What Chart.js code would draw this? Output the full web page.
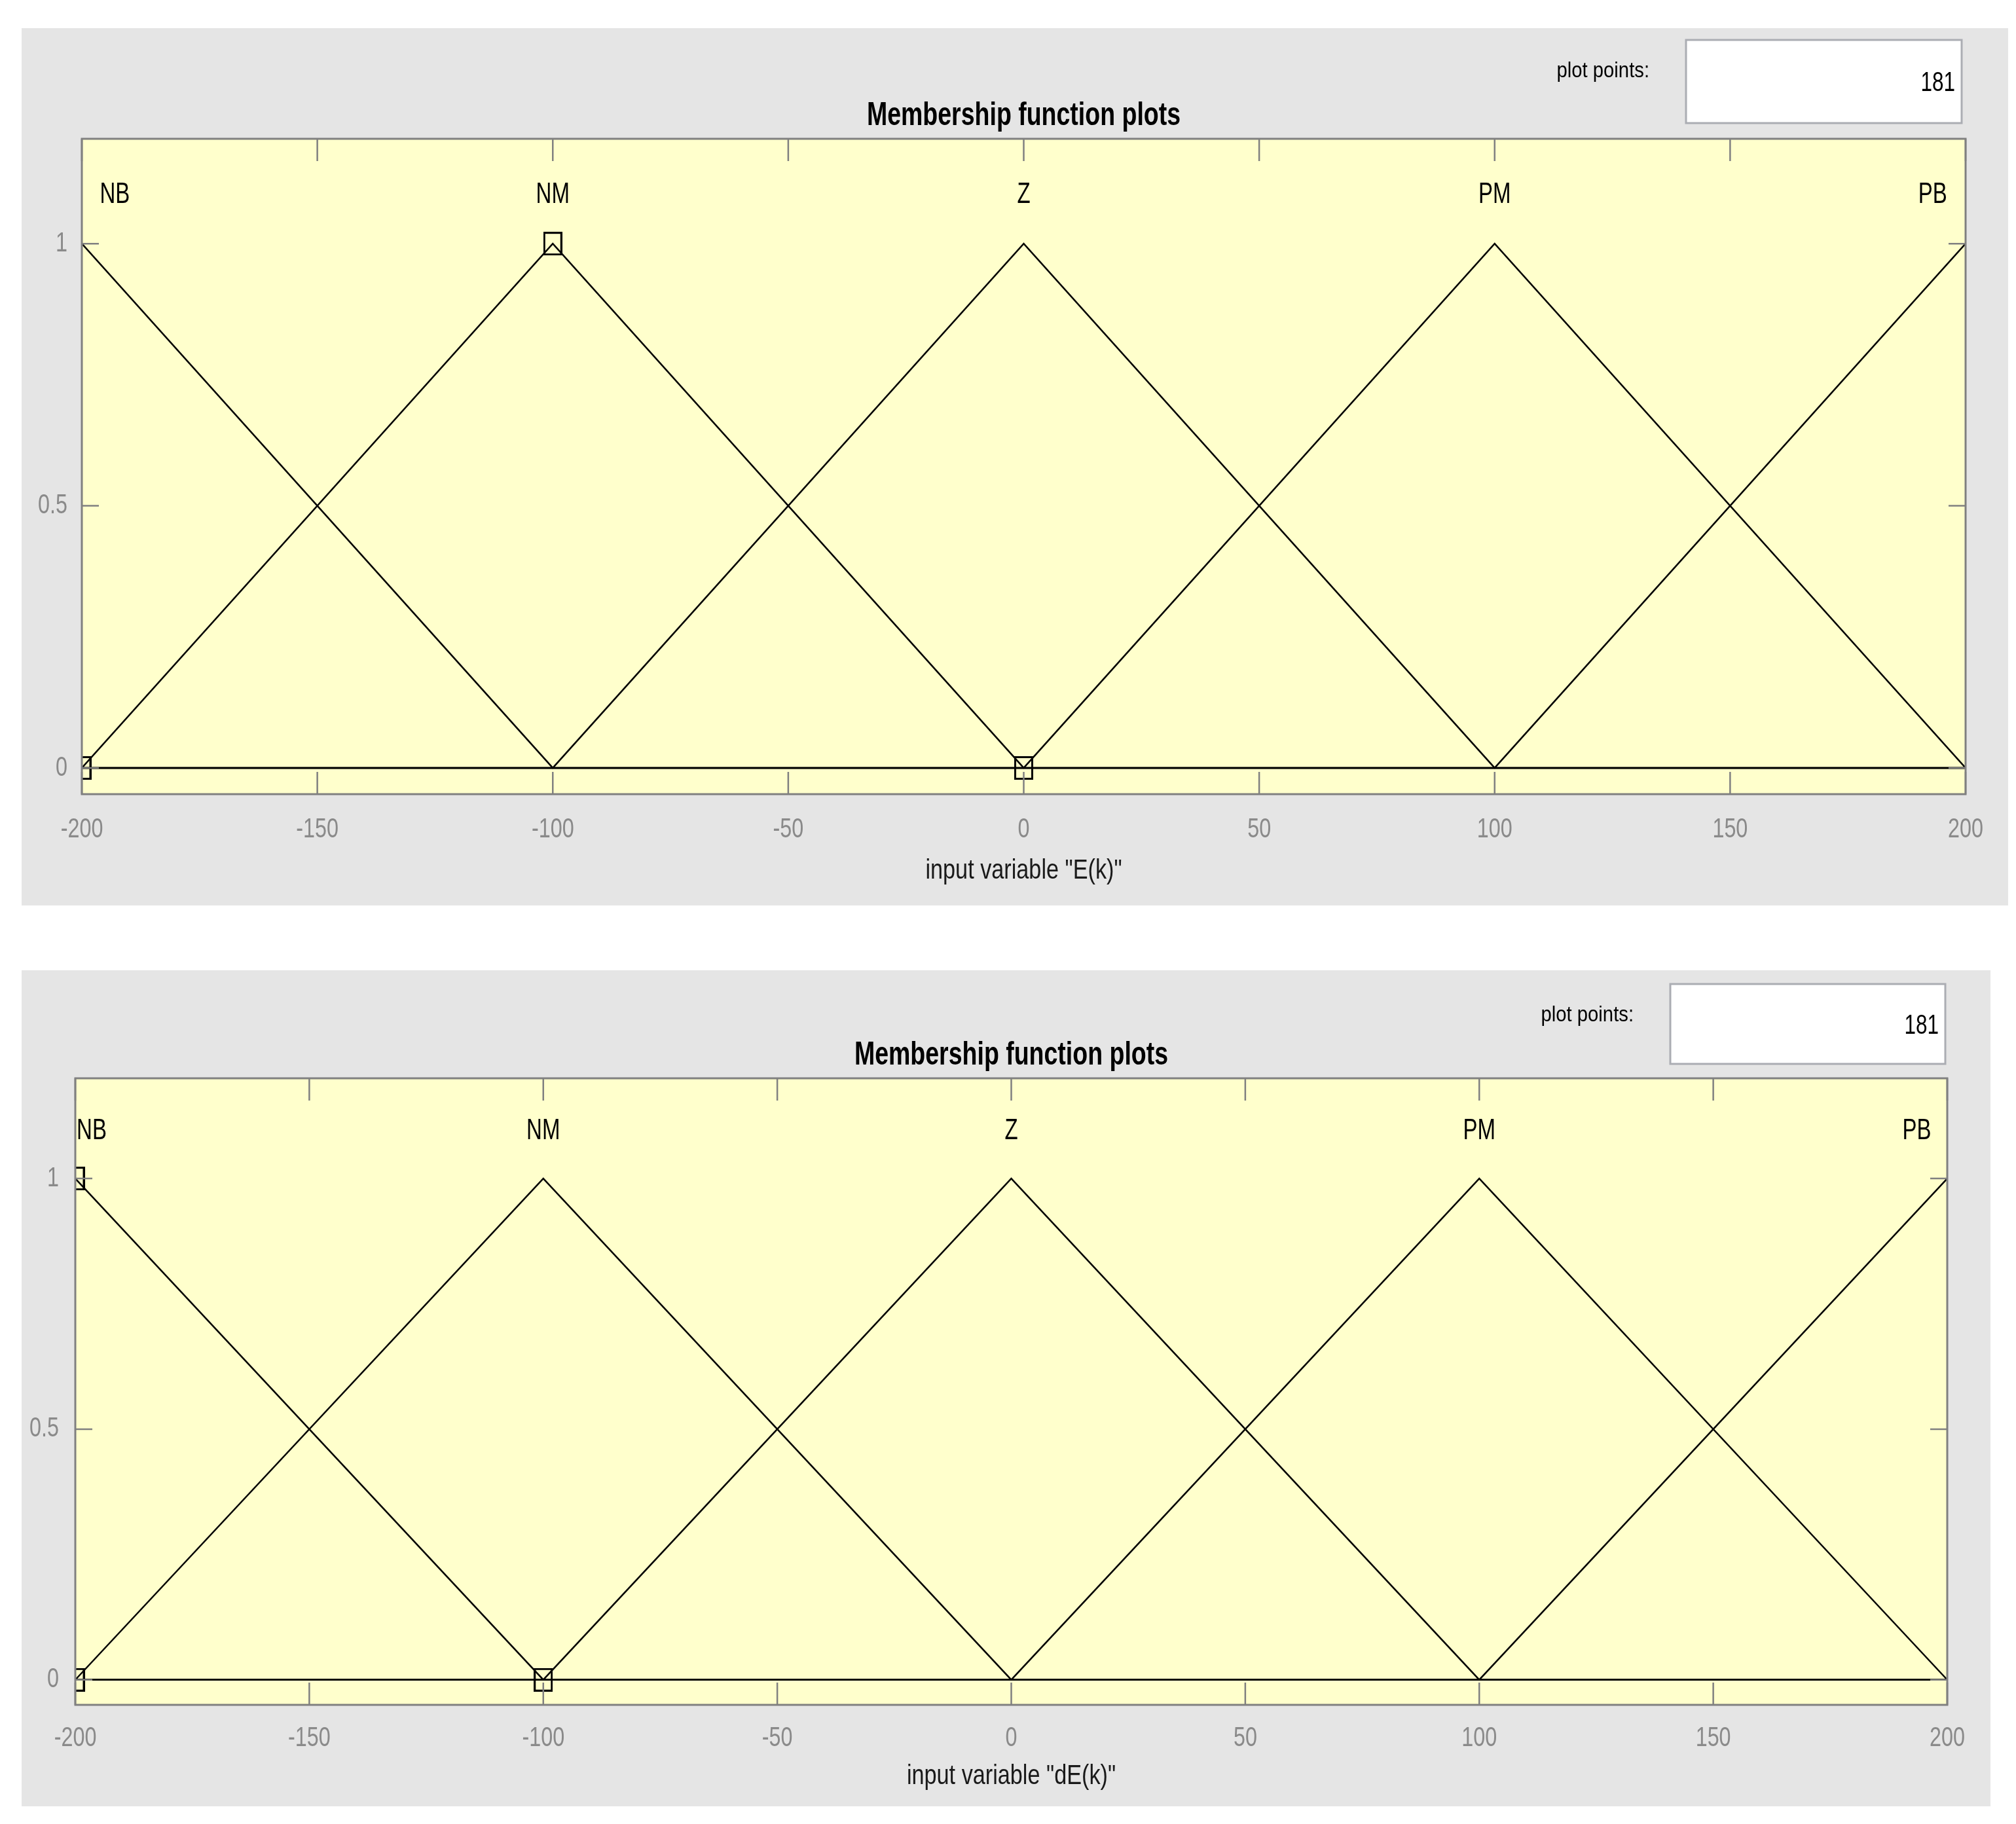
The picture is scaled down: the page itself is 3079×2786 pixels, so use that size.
<!DOCTYPE html>
<html>
<head>
<meta charset="utf-8">
<title>Membership function plots</title>
<script src="https://cdn.jsdelivr.net/npm/chart.js@4.4.1/dist/chart.umd.min.js"></script>
<style>
  html, body { margin: 0; padding: 0; background: #fff; }
  body { position: relative; width: 3079px; height: 2786px; overflow: hidden; }
  canvas { position: absolute; background: #e5e5e5; }
  #chartE { left: 33px; top: 43px; }
  #chartDE { left: 33px; top: 1482px; }
</style>
</head>
<body>
<canvas id="chartE" width="3034" height="1340"></canvas>
<canvas id="chartDE" width="3007" height="1277"></canvas>
<script>
// Membership functions (same triangular sets on E(k) and dE(k))
const mfNames = ['NB', 'NM', 'Z', 'PM', 'PB'];
const nbX = [-200, -100, 200];
const nbY = [1, 0, 0];
const nmX = [-200, -100, 0, 200];
const nmY = [0, 1, 0, 0];
const zX = [-200, -100, 0, 100, 200];
const zY = [0, 0, 1, 0, 0];
const pmX = [-200, 0, 100, 200];
const pmY = [0, 0, 1, 0];
const pbX = [-200, 100, 200];
const pbY = [0, 0, 1];

const xTicks = [-200, -150, -100, -50, 0, 50, 100, 150, 200];
const yTicks = [0, 0.5, 1];
const yTickLabels = ['0', '0.5', '1'];

// vertices of the selected MF (square markers)
const eMarkX = [-200, -100, 0];
const eMarkY = [0, 1, 0];
const dEMarkX = [-200, -200, -100];
const dEMarkY = [1, 0, 0];

// x position of each MF name
const eLabelX = [-193, -100, 0, 100, 193];
const dELabelX = [-196.5, -100, 0, 100, 193.5];

const plotPoints = '181';

const FONT = '"Liberation Sans", Arial, Helvetica, sans-serif';

function toPoints(xs, ys) {
    return xs.map((x, i) => ({ x: x, y: ys[i] }));
}

function squeezeText(ctx, text, x, y, size, opts) {
    ctx.save();
    ctx.translate(x, y);
    ctx.scale(opts.sx || 1, 1);
    ctx.font = (opts.bold ? 'bold ' : '') + size + 'px ' + FONT;
    ctx.fillStyle = opts.color || '#000';
    ctx.textAlign = opts.align || 'left';
    ctx.textBaseline = opts.baseline || 'alphabetic';
    ctx.fillText(text, 0, 0);
    ctx.restore();
}

function makeMarker() {
    const c = document.createElement('canvas');
    c.width = 29;
    c.height = 36;
    const g = c.getContext('2d');
    g.strokeStyle = '#000';
    g.lineWidth = 3;
    g.strokeRect(1.5, 1.5, 26, 33);
    return c;
}

// MATLAB style frame, inner ticks and texts
function makeAxesPlugin(s) {
    return {
        id: 'matlabAxes',
        beforeDatasetsDraw(chart) {
            const a = chart.chartArea;
            const ctx = chart.ctx;
            ctx.save();
            ctx.fillStyle = '#ffffcc';
            ctx.fillRect(a.left, a.top, a.right - a.left, a.bottom - a.top);
            ctx.restore();
        },
        afterDraw(chart) {
            const ctx = chart.ctx;
            const a = chart.chartArea;
            const xs = chart.scales.x;
            const ys = chart.scales.y;

            ctx.save();
            ctx.strokeStyle = '#808080';
            ctx.lineWidth = 2.5;
            ctx.beginPath();
            xTicks.forEach(v => {
                const px = xs.getPixelForValue(v);
                ctx.moveTo(px, a.top);
                ctx.lineTo(px, a.top + 34);
                ctx.moveTo(px, a.bottom);
                ctx.lineTo(px, a.bottom - 34);
            });
            yTicks.forEach(v => {
                const py = ys.getPixelForValue(v);
                ctx.moveTo(a.left, py);
                ctx.lineTo(a.left + 26, py);
                ctx.moveTo(a.right, py);
                ctx.lineTo(a.right - 26, py);
            });
            ctx.stroke();
            ctx.lineWidth = 3;
            ctx.strokeRect(a.left, a.top, a.right - a.left, a.bottom - a.top);
            ctx.restore();

            xTicks.forEach(v => {
                squeezeText(ctx, String(v), xs.getPixelForValue(v), a.bottom + s.xTickGap, 42,
                    { sx: 0.77, color: '#8a8a8a', align: 'center' });
            });
            yTicks.forEach((v, i) => {
                squeezeText(ctx, yTickLabels[i], a.left - s.yTickGap, ys.getPixelForValue(v), 42,
                    { sx: 0.77, color: '#8a8a8a', align: 'right', baseline: 'middle' });
            });

            mfNames.forEach((name, i) => {
                squeezeText(ctx, name, xs.getPixelForValue(s.labelX[i]), a.top + s.nameGap, 44,
                    { sx: 0.75, align: 'center' });
            });

            const cx = (a.left + a.right) / 2;
            squeezeText(ctx, 'Membership function plots', cx, a.top - 21, 50,
                { sx: 0.75, bold: true, align: 'center' });
            squeezeText(ctx, s.xLabel, cx, s.xLabelY, 42,
                { sx: 0.815, color: '#1a1a1a', align: 'center' });

            // plot points box
            const b = s.box;
            ctx.save();
            ctx.fillStyle = '#ffffff';
            ctx.fillRect(b.x, b.y, b.w, b.h);
            ctx.strokeStyle = '#abadb3';
            ctx.lineWidth = 3;
            ctx.strokeRect(b.x, b.y, b.w, b.h);
            ctx.restore();
            squeezeText(ctx, 'plot points:', b.x - 56, b.y + 57, 34, { sx: 0.86, align: 'right' });
            squeezeText(ctx, plotPoints, b.x + b.w - 10, b.y + b.h / 2 + 3, 42,
                { sx: 0.75, align: 'right', baseline: 'middle' });
        }
    };
}

function buildChart(canvasId, markX, markY, s) {
    const lineSets = [[nbX, nbY], [nmX, nmY], [zX, zY], [pmX, pmY], [pbX, pbY]].map((d, i) => ({
        label: mfNames[i],
        data: toPoints(d[0], d[1]),
        showLine: true,
        borderColor: '#000',
        borderWidth: 2.5,
        pointRadius: 0,
        tension: 0,
        fill: false
    }));

    const markerSet = {
        label: 'selected',
        data: toPoints(markX, markY),
        showLine: false,
        pointStyle: makeMarker(),
        pointRadius: 14,
        clip: 0
    };

    return new Chart(document.getElementById(canvasId).getContext('2d'), {
        type: 'scatter',
        data: { datasets: lineSets.concat([markerSet]) },
        options: {
            responsive: false,
            animation: false,
            events: [],
            layout: { padding: s.padding },
            plugins: {
                legend: { display: false },
                tooltip: { enabled: false },
                title: { display: false }
            },
            scales: {
                x: { type: 'linear', min: -200, max: 200, display: false },
                y: { type: 'linear', min: -0.05, max: 1.2, display: false }
            }
        },
        plugins: [makeAxesPlugin(s)]
    });
}

buildChart('chartE', eMarkX, eMarkY, {
    padding: { left: 92, top: 169, right: 65, bottom: 170 },
    labelX: eLabelX,
    xLabel: 'input variable "E(k)"',
    xLabelY: 1299,
    xTickGap: 66,
    yTickGap: 22,
    nameGap: 98,
    box: { x: 2542, y: 18, w: 421, h: 127 }
});

buildChart('chartDE', dEMarkX, dEMarkY, {
    padding: { left: 82, top: 165, right: 66, bottom: 155 },
    labelX: dELabelX,
    xLabel: 'input variable "dE(k)"',
    xLabelY: 1243,
    xTickGap: 63,
    yTickGap: 25,
    nameGap: 93,
    box: { x: 2518, y: 21, w: 420, h: 122 }
});
</script>
</body>
</html>
